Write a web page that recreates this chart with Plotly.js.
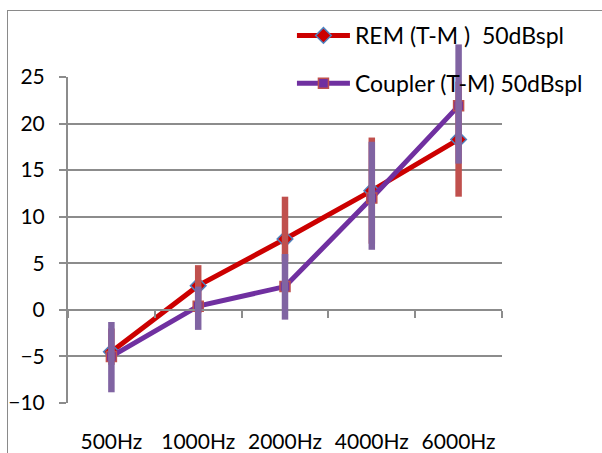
<!DOCTYPE html>
<html><head><meta charset="utf-8">
<script src="https://cdn.plot.ly/plotly-3.0.1.min.js"></script>
<style>
html,body{margin:0;padding:0;background:#fff;overflow:hidden}
#chart{width:602px;height:453px;position:absolute;left:0;top:0}
#frame{position:absolute;left:7px;top:10px;width:700px;height:600px;border:1.5px solid #8a8a8a;pointer-events:none}
</style></head><body>
<div id="chart"></div><div id="frame"></div>
<script>
const categories = ['500Hz', '1000Hz', '2000Hz', '4000Hz', '6000Hz'];

const remName = 'REM (T-M )  50dBspl';
const remValues = [-4.5, 2.6, 7.6, 12.8, 18.3];
const remErrPlus = [2.5, 2.2, 4.55, 5.7, 6.2];
const remErrMinus = [1.4, 2.95, 2.4, 5.7, 6.15];

const couplerName = 'Coupler (T-M) 50dBspl';
const couplerValues = [-5.0, 0.4, 2.5, 12.0, 21.9];
const couplerErrPlus = [3.7, 2.1, 3.5, 6.05, 6.6];
const couplerErrMinus = [3.85, 2.55, 3.55, 5.55, 6.2];

const yTickValues = [-10, -5, 0, 5, 10, 15, 20, 25];
const yRange = [-10, 25];

const gridGray = '#8c8c8c';
const fontFam = 'Lato, "Open Sans", sans-serif';

// plot-area geometry (pixels)
const W = 602, H = 453;
const mL = 68, mR = 100, mT = 30, mB = 50;
const mainTopPx = 77;
const plotH = H - mT - mB;
const mainTop = (H - mB - mainTopPx) / plotH;
const y2Range = [yRange[0], yRange[0] + (yRange[1] - yRange[0]) / mainTop];

const traces = [
  {
    x: categories, y: remValues, name: remName, type: 'scatter', mode: 'lines+markers',
    legendgroup: 'rem',
    line: {color: '#cc0000', width: 5},
    marker: {symbol: 'diamond', size: 12, color: '#cc0000', line: {color: '#4f81bd', width: 1.5}},
    cliponaxis: false
  },
  {
    x: categories, y: couplerValues, name: couplerName, type: 'scatter', mode: 'lines+markers',
    legendgroup: 'coupler',
    line: {color: '#7030a0', width: 5},
    marker: {symbol: 'square', size: 10, color: '#7030a0', line: {color: '#c0504d', width: 1.5}},
    cliponaxis: false
  },
  {
    x: categories, y: remValues, xaxis: 'x2', yaxis: 'y2',
    type: 'scatter', mode: 'markers', showlegend: false, hoverinfo: 'skip',
    marker: {size: 1, opacity: 0},
    error_y: {type: 'data', symmetric: false, array: remErrPlus, arrayminus: remErrMinus,
              color: '#c0504d', thickness: 6.5, width: 0}
  },
  {
    x: categories, y: couplerValues, xaxis: 'x2', yaxis: 'y2',
    type: 'scatter', mode: 'markers', showlegend: false, hoverinfo: 'skip',
    marker: {size: 1, opacity: 0},
    error_y: {type: 'data', symmetric: false, array: couplerErrPlus, arrayminus: couplerErrMinus,
              color: '#8064a2', thickness: 6.5, width: 0}
  }
];

const catRange = [-0.5, categories.length - 0.5];

const layout = {
  width: W, height: H,
  margin: {l: mL, r: mR, t: mT, b: mB, pad: 0},
  paper_bgcolor: 'rgba(0,0,0,0)', plot_bgcolor: 'rgba(0,0,0,0)',
  font: {family: fontFam, size: 21, color: '#000'},
  showlegend: true,
  legend: {
    x: 0.516, y: (H - mB - 14) / plotH, xanchor: 'left', yanchor: 'top',
    bgcolor: 'rgba(0,0,0,0)', borderwidth: 0,
    font: {family: fontFam, size: 23, color: '#000'},
    itemwidth: 53, traceorder: 'grouped', tracegroupgap: 15
  },
  xaxis: {
    type: 'category', categoryorder: 'array', categoryarray: categories,
    range: catRange,
    anchor: 'free', position: mainTop * (0 - yRange[0]) / (yRange[1] - yRange[0]),
    showline: true, linecolor: gridGray, linewidth: 2,
    ticks: 'outside', tickson: 'boundaries', ticklen: 7, tickwidth: 2, tickcolor: gridGray,
    showgrid: false, zeroline: false,
    ticklabelstandoff: 113,
    tickfont: {family: fontFam, size: 21, color: '#000'}
  },
  yaxis: {
    domain: [0, mainTop],
    range: yRange, tickmode: 'array', tickvals: yTickValues,
    showgrid: true, gridcolor: gridGray, gridwidth: 2,
    showline: true, linecolor: gridGray, linewidth: 2,
    ticks: 'outside', ticklen: 7, tickwidth: 2, tickcolor: gridGray,
    zeroline: false, ticklabelstandoff: 10,
    tickfont: {family: fontFam, size: 21, color: '#000'}
  },
  xaxis2: {
    type: 'category', categoryorder: 'array', categoryarray: categories,
    range: catRange, anchor: 'y2', visible: false
  },
  yaxis2: {
    domain: [0, 1], range: y2Range, anchor: 'x2', visible: false
  }
};

Plotly.newPlot('chart', traces, layout, {staticPlot: true, displayModeBar: false});
</script>
</body></html>
